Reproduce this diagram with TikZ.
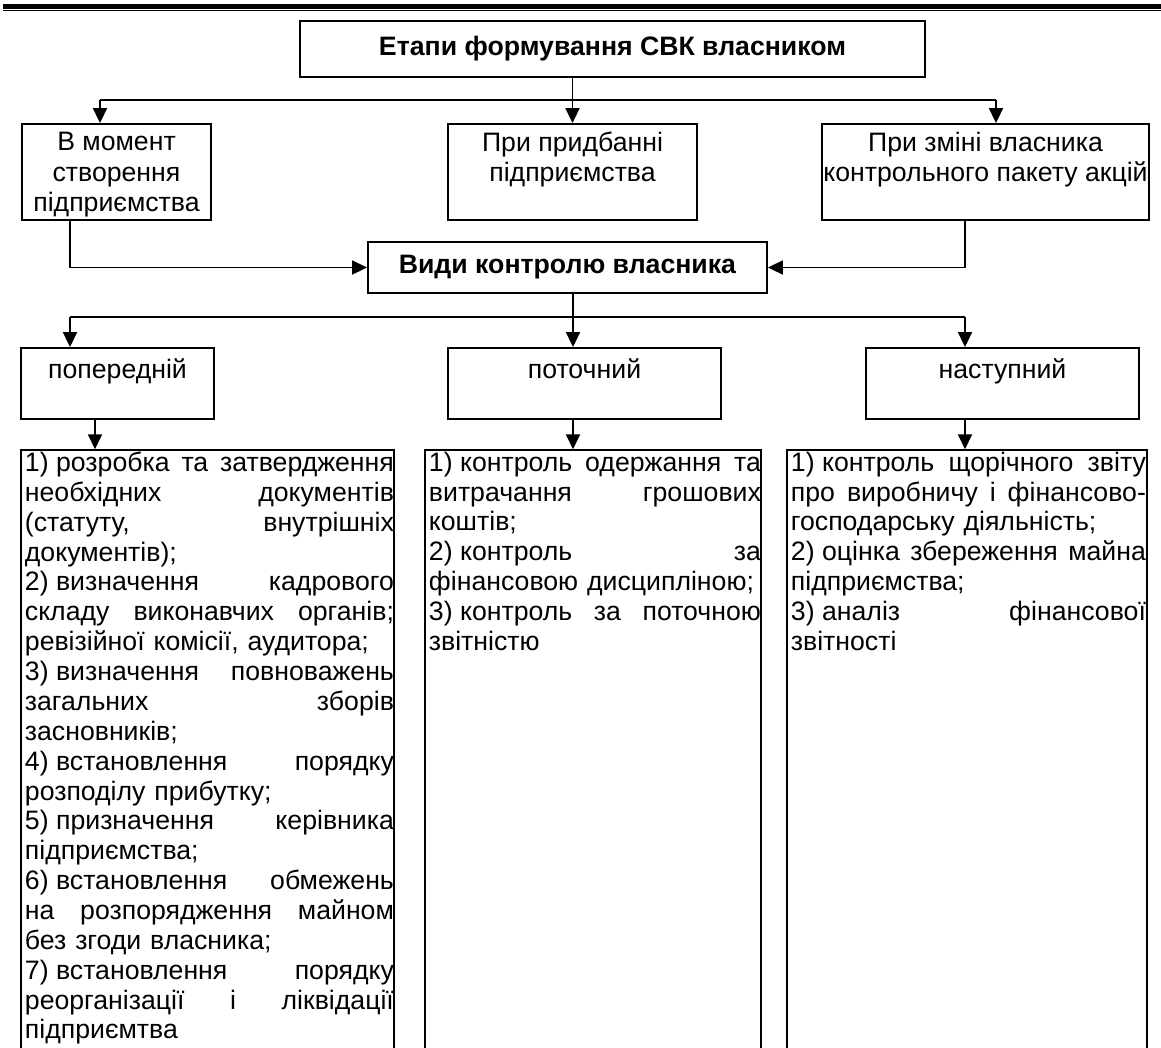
\documentclass[tikz,border=0pt]{standalone}
\usepackage{fontspec}
\setmainfont{Liberation Sans}
\usetikzlibrary{arrows.meta}

\tikzset{every picture/.style={line width=1.4pt}}
\tikzset{
  box/.style={draw, rectangle, inner sep=0pt, align=center},
  listbox/.style={draw, rectangle, inner sep=0pt, line width=1.1pt},
  listtext/.style={anchor=north west, inner sep=0pt, font=\fontsize{20}{22.4}\selectfont},
  arr/.style={-{Triangle[length=11.25pt,width=10.5pt]}}
}
% justified line, last line of an item, item number
\newlength{\lw}
\newcommand{\jl}[1]{\hbox to\lw{\spaceskip=.278em plus 1fil\relax #1}\par}
\newcommand{\el}[1]{\hbox to\lw{#1\hfil}\par}
\newcommand{\itm}[1]{#1)\kern.28em}

\begin{document}
\begin{tikzpicture}[x=0.75pt,y=0.75pt,yscale=-1,xscale=1,font=\fontsize{20}{23}\selectfont]
	\useasboundingbox (0,0) rectangle (1161,1047);
	\clip (0,0) rectangle (1161,1047);

	%Double rule at the top
	\draw [line width=3.4pt] (3,6.3) -- (1161,6.3) ;
	\draw [line width=1pt] (3,10.8) -- (1161,10.8) ;

	%Shape: top box
	\node [box, minimum width=625*0.75pt, minimum height=56*0.75pt] (etapy) at (612.5,49) {\textbf{Етапи формування СВК власником}};

	%Shape: first row
	\node [box, minimum width=189*0.75pt, minimum height=96*0.75pt] (moment) at (116.5,172) {В момент\\створення\\\smash{підприємства}};
	\node [box, minimum width=249*0.75pt, minimum height=96*0.75pt] (prydb) at (572.5,172) {При придбанні\\підприємства\\\mbox{}};
	\node [box, minimum width=327*0.75pt, minimum height=96*0.75pt] (zmina) at (985.5,172) {При зміні власника\\контрольного пакету акцій\\\mbox{}};

	%Shape: middle box
	\node [box, minimum width=399*0.75pt, minimum height=51*0.75pt] (vydy) at (567.5,267.5) {\textbf{Види контролю власника}};

	%Shape: second row
	\node [box, minimum width=193*0.75pt, minimum height=71*0.75pt] (poper) at (117.5,383.5) {попередній\\\mbox{}};
	\node [box, minimum width=273*0.75pt, minimum height=71*0.75pt] (potoch) at (584.5,383.5) {поточний\\\mbox{}};
	\node [box, minimum width=273*0.75pt, minimum height=71*0.75pt] (nastup) at (1002.5,383.5) {наступний\\\mbox{}};

	%Shape: lists (cut by the page bottom)
	\node [listbox, minimum width=373*0.75pt, minimum height=620*0.75pt] (poperL) at (207.5,760) {};
	\node [listbox, minimum width=336*0.75pt, minimum height=620*0.75pt] (potochL) at (593,760) {};
	\node [listbox, minimum width=360*0.75pt, minimum height=620*0.75pt] (nastupL) at (967,760) {};

	%Branch points
	\coordinate (b1) at (100,100);
	\coordinate (b2) at (996,100);
	\coordinate (c1) at (70,267.5);
	\coordinate (c2) at (965,267.5);
	\coordinate (d1) at (70,317);
	\coordinate (d2) at (965,317);
	\coordinate (d3) at (573,317);
	\coordinate (e1) at (95,435);
	\coordinate (e2) at (573,435);
	\coordinate (e3) at (965,435);

	%Straight Lines
	\draw (b1) -- (b2) ;
	\draw [arr] (b1) -- (b1 |- moment.north) ;
	\draw [arr] (etapy.south -| prydb.north) -- (prydb.north) ;
	\draw [arr] (b2) -- (b2 |- zmina.north) ;
	\draw [arr] (c1 |- moment.south) -- (c1) -- (vydy.west) ;
	\draw [arr] (c2 |- zmina.south) -- (c2) -- (vydy.east) ;
	\draw (d1) -- (d2) ;
	\draw [arr] (d3 |- vydy.south) -- (d3 |- potoch.north) ;
	\draw [arr] (d1) -- (d1 |- poper.north) ;
	\draw [arr] (d2) -- (d2 |- nastup.north) ;
	\draw [arr] (e1 |- poper.south) -- (e1 |- poperL.north) ;
	\draw [arr] (e2 |- potoch.south) -- (e2 |- potochL.north) ;
	\draw [arr] (e3 |- nastup.south) -- (e3 |- nastupL.north) ;

	% Text Node
	\node [listtext, text width=369*0.75pt] (poperT) at (24,451) {\lw=276.75pt%
		\jl{\itm{1}розробка та затвердження}
		\jl{необхідних документів}
		\jl{(статуту, внутрішніх}
		\el{документів);}
		\jl{\itm{2}визначення кадрового}
		\jl{складу виконавчих органів;}
		\el{ревізійної комісії, аудитора;}
		\jl{\itm{3}визначення повноважень}
		\jl{загальних зборів}
		\el{засновників;}
		\jl{\itm{4}встановлення порядку}
		\el{розподілу прибутку;}
		\jl{\itm{5}призначення керівника}
		\el{підприємства;}
		\jl{\itm{6}встановлення обмежень}
		\jl{на розпорядження майном}
		\el{без згоди власника;}
		\jl{\itm{7}встановлення порядку}
		\jl{реорганізації і ліквідації}
		\el{підприємтва}};
	% Text Node
	\node [listtext, text width=332*0.75pt] (potochT) at (428,451) {\lw=249pt%
		\jl{\itm{1}контроль одержання та}
		\jl{витрачання грошових}
		\el{коштів;}
		\jl{\itm{2}контроль за}
		\el{фінансовою дисципліною;}
		\jl{\itm{3}контроль за поточною}
		\el{звітністю}};
	% Text Node
	\node [listtext, text width=355*0.75pt] (nastupT) at (790,451) {\lw=266.25pt%
		\jl{\itm{1}контроль щорічного звіту}
		\jl{про виробничу і фінансово-}
		\el{господарську діяльність;}
		\jl{\itm{2}оцінка збереження майна}
		\el{підприємства;}
		\jl{\itm{3}аналіз фінансової}
		\el{звітності}};
\end{tikzpicture}
\end{document}
